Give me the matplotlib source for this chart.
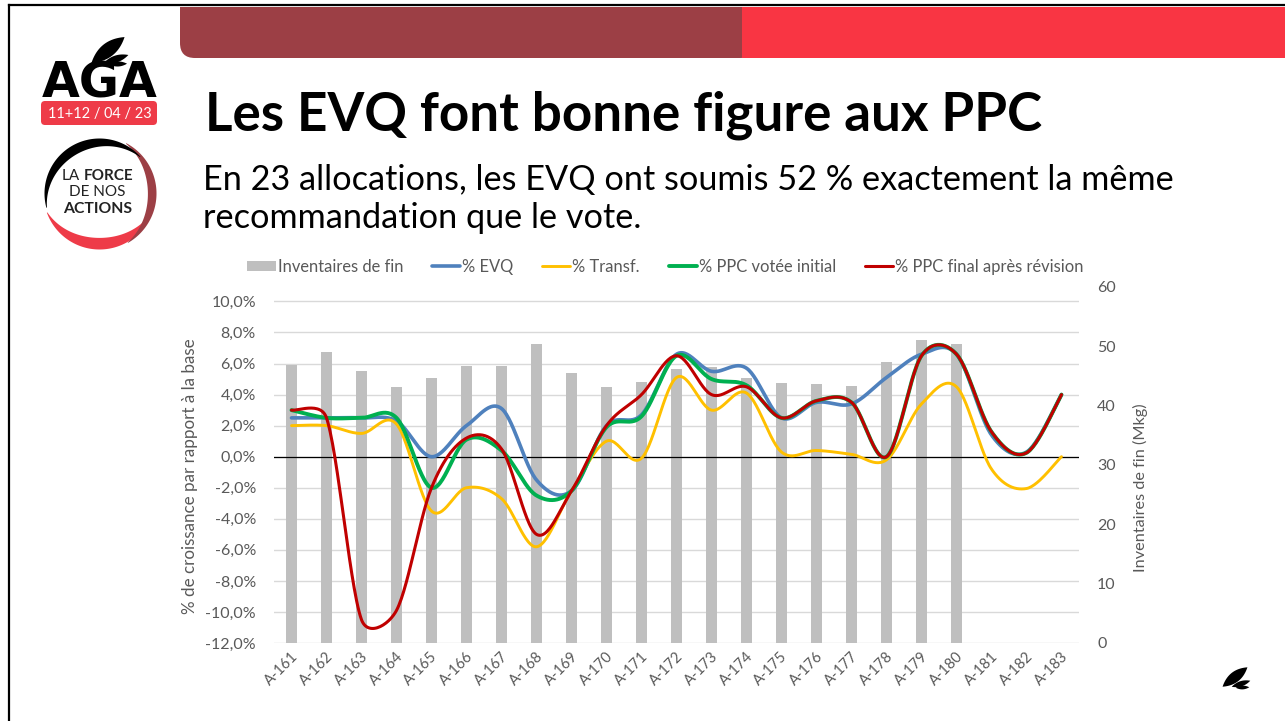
import numpy as np
import matplotlib.pyplot as plt
import matplotlib.transforms as mtransforms
from matplotlib.patches import Rectangle, FancyBboxPatch, Polygon

# ---- data ----
categories = ['A-161', 'A-162', 'A-163', 'A-164', 'A-165', 'A-166', 'A-167', 'A-168',
              'A-169', 'A-170', 'A-171', 'A-172', 'A-173', 'A-174', 'A-175', 'A-176',
              'A-177', 'A-178', 'A-179', 'A-180', 'A-181', 'A-182', 'A-183']
# Mkg, right axis (no bar for the last three)
inventaires = [46.9, 49.0, 45.9, 43.1, 44.7, 46.7, 46.7, 50.4, 45.5, 43.1, 44.0, 46.2,
               46.5, 44.6, 43.8, 43.6, 43.3, 47.4, 51.0, 50.4, np.nan, np.nan, np.nan]
# % growth vs base, left axis
evq = [2.5, 2.5, 2.5, 2.3, 0.0, 2.0, 3.1, -1.5, -2.2, 2.0, 2.7, 6.6,
       5.5, 5.7, 2.5, 3.5, 3.4, 5.1, 6.6, 6.6, 1.4, 0.3, 4.0]
transf = [2.0, 2.0, 1.5, 2.1, -3.5, -2.0, -2.7, -5.8, -2.2, 1.0, -0.1, 5.1,
          3.0, 4.1, 0.3, 0.4, 0.15, -0.2, 3.4, 4.5, -0.8, -2.05, 0.0]
ppc_initial = [3.0, 2.5, 2.5, 2.5, -2.0, 1.1, 0.4, -2.5, -2.2, 1.9, 2.6, 6.5,
               5.0, 4.6, 2.5, 3.6, 3.5, 0.0, 6.5, 6.6, 1.6, 0.25, 4.0]
ppc_final = [3.0, 2.5, -10.5, -9.9, -2.0, 1.2, 0.5, -5.0, -2.2, 2.0, 4.0, 6.5,
             4.0, 4.5, 2.5, 3.6, 3.5, 0.0, 6.5, 6.6, 1.6, 0.25, 4.0]

legend_labels = ['Inventaires de fin', '% EVQ', '% Transf.', '% PPC votée initial',
                 '% PPC final après révision']
y_ticks = list(range(-12, 11, 2))
y2_ticks = list(range(0, 61, 10))

title = 'Les EVQ font bonne figure aux PPC'
subtitle = ['En 23 allocations, les EVQ ont soumis 52 % exactement la même',
            'recommandation que le vote.']
ylabel = '% de croissance par rapport à la base'
y2label = 'Inventaires de fin (Mkg)'

W, H = 1285, 721
GREY_TXT = '#595959'
plt.rcParams['font.family'] = ['Lato', 'DejaVu Sans']

fig = plt.figure(figsize=(W / 100, H / 100), dpi=100)
renderer = fig.canvas.get_renderer()


def px_box(x0, y0, x1, y1):
    return [x0 / W, 1 - y1 / H, (x1 - x0) / W, (y1 - y0) / H]


def fit(t, width_px):
    w = t.get_window_extent(renderer).width
    t.set_fontsize(t.get_fontsize() * width_px / w)


# background layer in pixel coordinates
bg = fig.add_axes([0, 0, 1, 1])
bg.set_xlim(0, W)
bg.set_ylim(H, 0)
bg.axis('off')

# slide frame
bg.plot([9, W], [5, 5], color='black', lw=1.6)
bg.plot([9, 9], [5, H], color='black', lw=1.6)

# banner
bg.add_patch(FancyBboxPatch((180, 7), 575, 51, boxstyle='round,pad=0,rounding_size=15',
                            fc='#9C3F45', ec='none'))
bg.add_patch(Rectangle((180, 7), 575, 20, fc='#9C3F45', ec='none'))
bg.add_patch(Rectangle((742, 7), W - 742, 51, fc='#F93543', ec='none'))


def lens(cx, cy, length, width, ang, color='black'):
    s = np.linspace(-1, 1, 60)
    a = np.radians(ang)
    u = s * length / 2
    half = width / 2 * (1 - s ** 2)
    pts = []
    for sign in (1, -1):
        v = sign * half
        xs = cx + u * np.cos(a) - v * np.sin(a)
        ys = cy - (u * np.sin(a) + v * np.cos(a))
        seg = np.column_stack([xs, ys])
        pts.append(seg if sign == 1 else seg[::-1])
    bg.add_patch(Polygon(np.vstack(pts), closed=True, fc=color, ec='none'))


def leaf(x, y, k):
    lens(x, y, 42 * k, 14 * k, 38)
    lens(x + 8 * k, y + 9 * k, 26 * k, 7 * k, 18)
    lens(x + 10 * k, y + 14 * k, 18 * k, 5 * k, 2)


# AGA logo
leaf(108, 50, 1.0)
t = bg.text(99.5, 98, 'AGA', ha='center', va='baseline', fontsize=34,
            fontweight='bold', family='DejaVu Sans', color='black')
fit(t, 116)
bg.add_patch(FancyBboxPatch((41, 101), 116, 24, boxstyle='round,pad=0,rounding_size=4',
                            fc='#EE3B48', ec='none'))
t = bg.text(99.5, 114, '11+12 / 04 / 23', ha='center', va='center', color='white',
            fontsize=11)
fit(t, 104)


def crescent(cx, cy, r, a1, a2, wmax, color):
    tt = np.linspace(0, 1, 120)
    a = np.radians(a1 + (a2 - a1) * tt)
    w = wmax * np.sin(np.pi * tt) + 0.6
    xo, yo = cx + r * np.cos(a), cy - r * np.sin(a)
    xi, yi = cx + (r - w) * np.cos(a), cy - (r - w) * np.sin(a)
    bg.add_patch(Polygon(np.column_stack([np.r_[xo, xi[::-1]], np.r_[yo, yi[::-1]]]),
                         closed=True, fc=color, ec='none'))


crescent(99.5, 193.5, 56, 200, 340, 11, '#EE3B48')
crescent(99.5, 193.5, 57, 62, -60, 8, '#9C3F45')
crescent(99.5, 193.5, 55, 42, 195, 9, 'black')
bg.text(62, 176, 'LA', ha='left', va='center', fontsize=11, color='#222222')
bg.text(133, 176, 'FORCE', ha='right', va='center', fontsize=11, fontweight='bold',
        color='#222222')
bg.text(97.5, 192, 'DE NOS', ha='center', va='center', fontsize=11, color='#222222')
t = bg.text(97.5, 209, 'ACTIONS', ha='center', va='center', fontsize=11,
            fontweight='bold', color='#222222')
fit(t, 69)

# corner leaf
leaf(1235, 677, 0.75)

# title + subtitle
t = bg.text(205, 130, title, ha='left', va='baseline', fontsize=38, fontweight='bold',
            color='black')
fit(t, 838)
t1 = bg.text(203, 190, subtitle[0], ha='left', va='baseline', fontsize=22, color='black')
fit(t1, 969)
bg.text(203, 228, subtitle[1], ha='left', va='baseline', fontsize=t1.get_fontsize(),
        color='black')

# ---- chart ----
x = np.arange(len(categories))
box = px_box(274, 287, 1079, 643)
ax = fig.add_axes(box)                 # grid + left axis
axb = ax.twinx()                       # bars, right axis
axl = fig.add_axes(box, sharex=ax, sharey=ax)   # lines on top
ax.set_zorder(1)
axb.set_zorder(2)
axl.set_zorder(3)
for a in (ax, axb, axl):
    a.patch.set_visible(False)
    for s in a.spines.values():
        s.set_visible(False)

ax.set_xlim(-0.5, len(categories) - 0.5)
ax.set_ylim(-12, 10.93)
axb.set_ylim(0, 60)

ax.set_yticks(y_ticks)
ax.set_yticklabels([f'{v:.1f}%'.replace('.', ',') for v in y_ticks])
ax.yaxis.grid(True, color='#D9D9D9', lw=1.0)
ax.set_axisbelow(True)
ax.tick_params(axis='y', length=0, pad=13, labelsize=11.5, labelcolor=GREY_TXT)
ax.set_xticks(x)
ax.set_xticklabels(categories, rotation=45, ha='right', va='center',
                   rotation_mode='anchor')
ax.tick_params(axis='x', length=0, pad=8, labelsize=10.5, labelcolor=GREY_TXT)
off = mtransforms.ScaledTranslation(4 / 100, 0, fig.dpi_scale_trans)
for lab in ax.get_xticklabels():
    lab.set_transform(lab.get_transform() + off)

axb.set_yticks(y2_ticks)
axb.tick_params(axis='y', length=0, pad=13, labelsize=11.5, labelcolor=GREY_TXT)

axl.tick_params(left=False, bottom=False, labelleft=False, labelbottom=False)

inv = np.array(inventaires)
ok = ~np.isnan(inv)
bars = axb.bar(x[ok], inv[ok], width=0.31, color='#BFBFBF', label=legend_labels[0])


def excel_smooth(xs, ys, sx, sy, n=30):
    # Bezier smoothing through every point, control arms clamped like Excel's
    P = np.column_stack([np.asarray(xs, float) * sx, np.asarray(ys, float) * sy])
    m = len(P)
    out = [P[0]]
    for i in range(m - 1):
        p0 = P[i - 1] if i > 0 else P[i]
        p1, p2 = P[i], P[i + 1]
        p3 = P[i + 2] if i + 2 < m else P[i + 1]
        d12 = np.hypot(*(p2 - p1))
        d02 = np.hypot(*(p2 - p0))
        d13 = np.hypot(*(p3 - p1))
        f1 = 1 / 6 if d02 / 6 < d12 / 2 else d12 / (2 * d02)
        f2 = 1 / 6 if d13 / 6 < d12 / 2 else d12 / (2 * d13)
        c1 = p1 + f1 * (p2 - p0)
        c2 = p2 - f2 * (p3 - p1)
        t = np.linspace(0, 1, n)[1:, None]
        seg = (1 - t) ** 3 * p1 + 3 * (1 - t) ** 2 * t * c1 + 3 * (1 - t) * t ** 2 * c2 + t ** 3 * p2
        out.extend(seg)
    out = np.array(out)
    return out[:, 0] / sx, out[:, 1] / sy


sx = (1079 - 274) / len(categories)
sy = (643 - 287) / (10.93 + 12)

axl.axhline(0, color='black', lw=0.9, zorder=1)
series = [(evq, '#4F81BD', 2.6), (transf, '#FFC000', 2.1),
          (ppc_initial, '#00B050', 2.8), (ppc_final, '#C00000', 2.2)]
handles = [bars]
for (vals, col, lw), lab in zip(series, legend_labels[1:]):
    xs, ys = excel_smooth(x, vals, sx, sy)
    ln, = axl.plot(xs, ys, color=col, lw=lw, solid_capstyle='round', label=lab, zorder=2)
    handles.append(ln)

fig.legend(handles, legend_labels, loc='center', bbox_to_anchor=(665.5 / W, 1 - 267 / H),
           ncol=5, frameon=False, fontsize=11.9, handlelength=1.7, handleheight=0.6,
           handletextpad=0.12, columnspacing=1.75, labelcolor=GREY_TXT)

t = fig.text(190 / W, 1 - 476 / H, ylabel, rotation=90, ha='center', va='center',
             fontsize=11.5, color=GREY_TXT)
t.set_fontsize(t.get_fontsize() * 277 / t.get_window_extent(renderer).height)
t = fig.text(1140 / W, 1 - 488 / H, y2label, rotation=90, ha='center', va='center',
             fontsize=11.5, color=GREY_TXT)
t.set_fontsize(t.get_fontsize() * 169 / t.get_window_extent(renderer).height)

fig.savefig('out.png', dpi=100)
